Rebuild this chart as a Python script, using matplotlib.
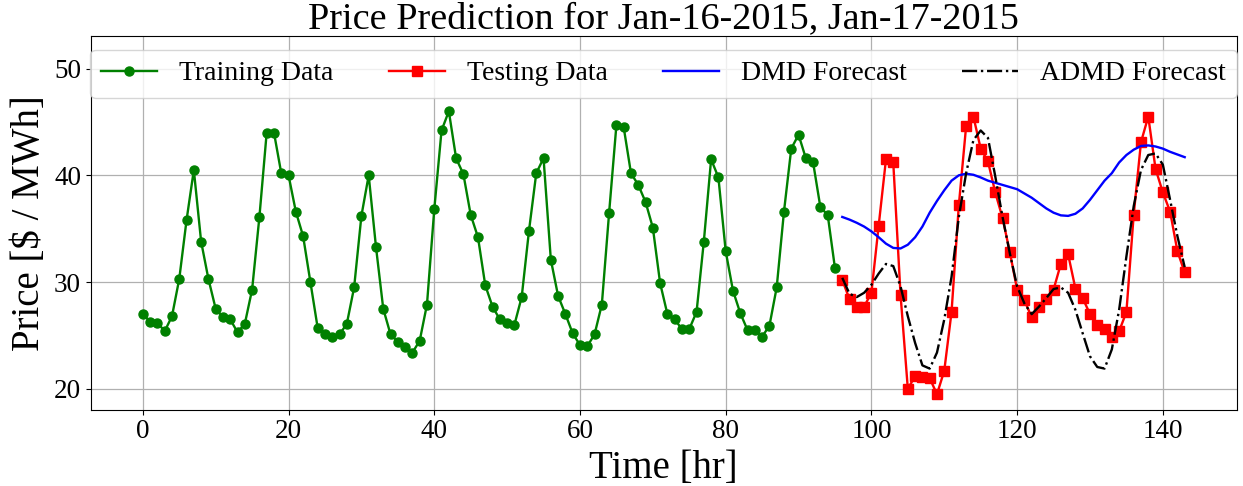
import numpy as np
import matplotlib
matplotlib.use('Agg')
import matplotlib.pyplot as plt

# training prices, hours 0..95
train_price = [27.0, 26.3, 26.2, 25.4, 26.8, 30.3, 35.8, 40.5, 33.8, 30.3,
               27.5, 26.7, 26.5, 25.3, 26.1, 29.3, 36.1, 44.0, 44.0, 40.2,
               40.0, 36.6, 34.3, 30.0, 25.7, 25.1, 24.9, 25.1, 26.1, 29.5,
               36.2, 40.0, 33.3, 27.5, 25.1, 24.4, 23.9, 23.4, 24.5, 27.9,
               36.8, 44.2, 46.0, 41.6, 40.1, 36.3, 34.2, 29.7, 27.7, 26.5,
               26.2, 26.0, 28.6, 34.8, 40.2, 41.6, 32.1, 28.7, 27.0, 25.2,
               24.1, 24.0, 25.1, 27.9, 36.5, 44.7, 44.5, 40.2, 39.1, 37.5,
               35.1, 29.9, 27.0, 26.5, 25.6, 25.6, 27.2, 33.8, 41.5, 39.8,
               32.9, 29.2, 27.1, 25.5, 25.5, 24.9, 25.9, 29.5, 36.6, 42.5,
               43.8, 41.6, 41.2, 37.0, 36.3, 31.3]

# testing prices, hours 96..143
test_price = [30.2, 28.4, 27.7, 27.7, 29.0, 35.3, 41.5, 41.2, 28.8, 20.0,
              21.2, 21.1, 21.0, 19.5, 21.7, 27.2, 37.2, 44.6, 45.5, 42.5,
              41.3, 38.4, 36.0, 32.8, 29.3, 28.3, 26.7, 27.7, 28.4, 29.3,
              31.7, 32.6, 29.4, 28.5, 27.0, 26.0, 25.6, 24.9, 25.4, 27.2,
              36.3, 43.1, 45.5, 40.6, 38.4, 36.6, 32.9, 30.9]

dmd_forecast = [36.1, 35.85, 35.55, 35.2, 34.75, 34.2, 33.6, 33.2, 33.15, 33.5,
                34.2, 35.2, 36.5, 37.6, 38.6, 39.5, 40.0, 40.15, 40.05, 39.8,
                39.5, 39.3, 39.1, 38.9, 38.7, 38.3, 37.9, 37.4, 36.9, 36.5,
                36.25, 36.2, 36.4, 36.9, 37.7, 38.6, 39.5, 40.2, 41.2, 41.9,
                42.4, 42.75, 42.8, 42.7, 42.5, 42.2, 41.95, 41.7]

admd_forecast = [30.4, 28.9, 28.6, 29.0, 29.75, 30.8, 31.7, 31.5, 29.6, 26.8,
                 24.3, 22.2, 21.9, 23.4, 26.5, 30.5, 36.1, 40.2, 43.3, 44.2,
                 43.5, 39.9, 36.1, 32.7, 29.6, 28.0, 27.0, 27.7, 28.5, 29.35,
                 29.5, 29.0, 27.4, 25.2, 23.05, 22.05, 21.9, 23.7, 27.4, 32.4,
                 37.1, 40.5, 41.9, 42.05, 41.0, 37.7, 34.3, 31.4]

t_train = np.arange(len(train_price))
t_test = np.arange(len(train_price), len(train_price) + len(test_price))

plt.rcParams['font.family'] = ['Liberation Serif', 'DejaVu Serif']

fig = plt.figure(figsize=(12.43, 4.86), dpi=100)
ax = fig.add_axes([0.073, 0.157, 0.922, 0.769])

ax.plot(t_train, train_price, color='green', marker='o', markersize=6.5,
        linewidth=1.7, label='Training Data')
ax.plot(t_test, test_price, color='red', marker='s', markersize=6.5,
        linewidth=1.7, label='Testing Data')
ax.plot(t_test, dmd_forecast, color='blue', linewidth=1.7, label='DMD Forecast')
ax.plot(t_test, admd_forecast, color='black', linestyle='-.', linewidth=1.7,
        label='ADMD Forecast')

ax.set_ylim(18.05, 53.05)
ax.set_xticks(np.arange(0, 141, 20))
ax.set_yticks([20, 30, 40, 50])
ax.tick_params(labelsize=19.5)
ax.grid(True, color='#b0b0b0', linewidth=0.9)
ax.set_axisbelow(True)

ax.set_xlabel('Time [hr]', fontsize=28, labelpad=4)
ax.set_ylabel('Price [$ / MWh]', fontsize=28, labelpad=4)
ax.set_title('Price Prediction for Jan-16-2015, Jan-17-2015', fontsize=27.5, pad=5)

ax.legend(loc='upper center', ncol=4, fontsize=20, borderaxespad=0.5,
          framealpha=0.8)

fig.savefig('out.png', dpi=100)
